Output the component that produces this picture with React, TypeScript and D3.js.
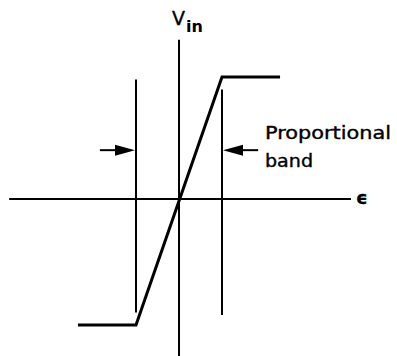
import React from "react";
import * as d3 from "d3";

// characteristic curve: error (eps) vs input (Vin), band half-width = 1
const curveEps = [-2.35, -1, 1, 2.35];
const curveVin = [-1, -1, 1, 1];
// proportional band boundaries
const bandEps = [-1, 1];
const bandTop = [0.98, 0.9];
const bandBottom = [-0.9, -0.92];
// arrows pointing at band boundaries
const arrowFrom = [-1.84, 1.84];
const arrowVin = 0.41;
// axes extents
const epsAxis = [-3.95, 4.0];
const vinAxis = [1.3, -1.25];
const bandLabel = ["Proportional", "band"];

const W = 397;
const H = 356;

export default function App() {
  const x = d3.scaleLinear().domain([-1, 1]).range([136, 222]);
  const y = d3.scaleLinear().domain([-1, 1]).range([325, 77]);
  const line = d3
    .line<number>()
    .x((d) => x(curveEps[d]))
    .y((d) => y(curveVin[d]));
  const idx = curveEps.map((_, i) => i);

  const arrowHead = (tipX: number, dir: number, yy: number) => {
    const len = 20;
    const hw = 5.5;
    return `M${tipX},${yy} L${tipX - dir * len},${yy - hw} L${tipX - dir * len},${yy + hw} Z`;
  };

  return (
    <svg
      width={W}
      height={H}
      style={{ position: "absolute", left: 0, top: 0, background: "#fff" }}
      fontFamily="DejaVu Sans, sans-serif"
    >
      <rect width={W} height={H} fill="#fff" />
      {/* axes */}
      <line x1={x(epsAxis[0])} x2={x(epsAxis[1])} y1={y(0) - 2} y2={y(0) - 2} stroke="#000" strokeWidth={2} />
      <line x1={x(0)} x2={x(0)} y1={y(vinAxis[0])} y2={y(vinAxis[1])} stroke="#000" strokeWidth={2} />
      {/* band lines */}
      {bandEps.map((e, i) => (
        <line key={i} x1={x(e)} x2={x(e)} y1={y(bandTop[i])} y2={y(bandBottom[i])} stroke="#000" strokeWidth={2} />
      ))}
      {/* characteristic */}
      <path d={line(idx) || ""} fill="none" stroke="#000" strokeWidth={3} strokeLinejoin="miter" />
      {/* arrows */}
      {bandEps.map((e, i) => {
        const dir = e < 0 ? 1 : -1;
        const yy = y(arrowVin);
        return (
          <g key={i}>
            <line x1={x(arrowFrom[i])} x2={x(e) - dir * 10} y1={yy} y2={yy} stroke="#000" strokeWidth={2} />
            <path d={arrowHead(x(e) - dir * 1, dir, yy)} fill="#000" />
          </g>
        );
      })}
      {/* labels */}
      <text x={x(0) + 7} y={32} fontSize={16} fontWeight="bold">in</text>
      <g stroke="#000" strokeWidth={0.4}>
        <text x={x(0) - 7} y={25} fontSize={19}>V</text>
        <text x={x(epsAxis[1]) + 5} y={204} fontSize={18} fontWeight="bold">ϵ</text>
        <text x={x(2.0)} y={139} fontSize={18} textLength={126} lengthAdjust="spacingAndGlyphs">{bandLabel[0]}</text>
        <text x={x(2.0)} y={167} fontSize={18} textLength={48} lengthAdjust="spacingAndGlyphs">{bandLabel[1]}</text>
      </g>
    </svg>
  );
}
